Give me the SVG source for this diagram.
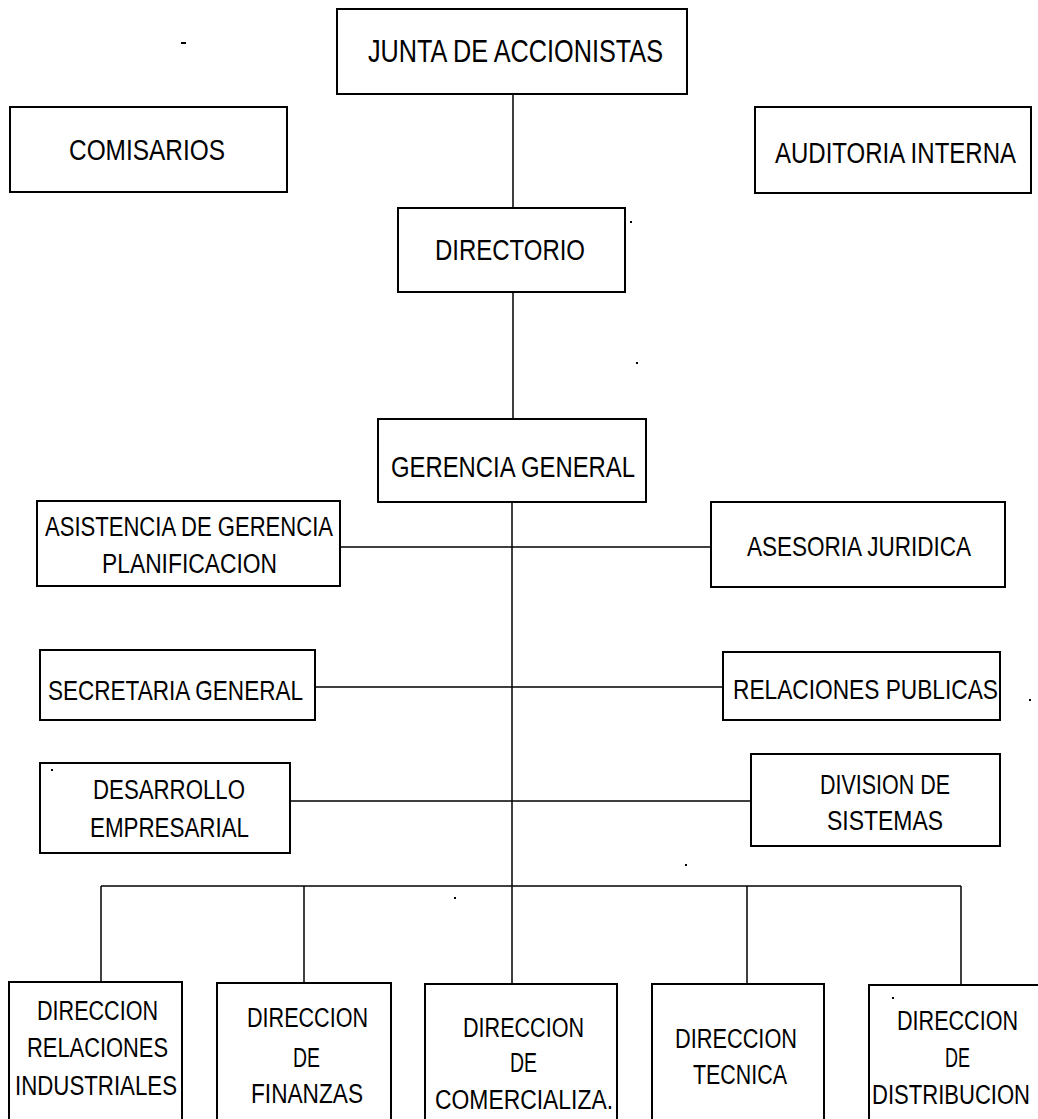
<svg xmlns="http://www.w3.org/2000/svg" width="1038" height="1119" viewBox="0 0 1038 1119">
  <style>
    .box { fill: #ffffff; stroke: #000000; stroke-width: 2; }
    .link { fill: none; stroke: #000000; stroke-width: 1.5; }
    text { font-family: "Liberation Sans Narrow", "Liberation Sans", Arial, sans-serif; fill: #000000; text-anchor: middle; }
    .t32 { font-size: 32px; }
    .t30 { font-size: 30px; }
    .t28 { font-size: 28px; }
    .t27 { font-size: 27px; }
    .speck { fill: #000000; }
  </style>

  <rect x="0" y="0" width="1038" height="1119" fill="#ffffff"/>

  <!-- connectors -->
  <g id="connectors">
    <line class="link" x1="513" y1="94" x2="513" y2="208"/>
    <line class="link" x1="513" y1="292" x2="513" y2="419"/>
    <line class="link" x1="512" y1="502" x2="512" y2="984"/>
    <line class="link" x1="340" y1="547" x2="711" y2="547"/>
    <line class="link" x1="315" y1="687" x2="723" y2="687"/>
    <line class="link" x1="290" y1="801" x2="751" y2="801"/>
    <line class="link" x1="101" y1="886" x2="961" y2="886"/>
    <line class="link" x1="101" y1="886" x2="101" y2="982"/>
    <line class="link" x1="304" y1="886" x2="304" y2="983"/>
    <line class="link" x1="747" y1="886" x2="747" y2="984"/>
    <line class="link" x1="961" y1="886" x2="961" y2="985"/>
  </g>

  <g id="junta">
    <rect class="box" x="337" y="9" width="350" height="85"/>
    <text class="t32" x="515.5" y="62" textLength="295" lengthAdjust="spacingAndGlyphs">JUNTA DE ACCIONISTAS</text>
  </g>
  <g id="comisarios">
    <rect class="box" x="10" y="107" width="277" height="85"/>
    <text class="t30" x="147" y="160" textLength="156" lengthAdjust="spacingAndGlyphs">COMISARIOS</text>
  </g>
  <g id="auditoria">
    <rect class="box" x="755" y="107" width="276" height="86"/>
    <text class="t30" x="895.5" y="163" textLength="241" lengthAdjust="spacingAndGlyphs">AUDITORIA INTERNA</text>
  </g>
  <g id="directorio">
    <rect class="box" x="398" y="208" width="227" height="84"/>
    <text class="t30" x="510" y="260" textLength="150" lengthAdjust="spacingAndGlyphs">DIRECTORIO</text>
  </g>
  <g id="gerencia">
    <rect class="box" x="378" y="419" width="268" height="83"/>
    <text class="t30" x="513" y="477" textLength="244" lengthAdjust="spacingAndGlyphs">GERENCIA GENERAL</text>
  </g>
  <g id="asistencia">
    <rect class="box" x="37" y="501" width="303" height="85"/>
    <text class="t27" x="189" y="536" textLength="288" lengthAdjust="spacingAndGlyphs">ASISTENCIA DE GERENCIA</text>
    <text class="t27" x="189.5" y="573" textLength="175" lengthAdjust="spacingAndGlyphs">PLANIFICACION</text>
  </g>
  <g id="asesoria">
    <rect class="box" x="711" y="502" width="294" height="85"/>
    <text class="t28" x="859" y="556" textLength="224" lengthAdjust="spacingAndGlyphs">ASESORIA JURIDICA</text>
  </g>
  <g id="secretaria">
    <rect class="box" x="40" y="650" width="275" height="70"/>
    <text class="t28" x="175.5" y="700" textLength="255" lengthAdjust="spacingAndGlyphs">SECRETARIA GENERAL</text>
  </g>
  <g id="relaciones-publicas">
    <rect class="box" x="723" y="652" width="277" height="68"/>
    <text class="t28" x="865.5" y="699" textLength="265" lengthAdjust="spacingAndGlyphs">RELACIONES PUBLICAS</text>
  </g>
  <g id="desarrollo">
    <rect class="box" x="40" y="763" width="250" height="90"/>
    <text class="t27" x="169" y="799" textLength="152" lengthAdjust="spacingAndGlyphs">DESARROLLO</text>
    <text class="t27" x="169.5" y="837" textLength="159" lengthAdjust="spacingAndGlyphs">EMPRESARIAL</text>
  </g>
  <g id="sistemas">
    <rect class="box" x="751" y="754" width="249" height="92"/>
    <text class="t27" x="885" y="794" textLength="130" lengthAdjust="spacingAndGlyphs">DIVISION DE</text>
    <text class="t27" x="885" y="830" textLength="116" lengthAdjust="spacingAndGlyphs">SISTEMAS</text>
  </g>

  <g id="dir-relaciones-industriales">
    <rect class="box" x="9" y="982" width="173" height="150"/>
    <text class="t27" x="97.5" y="1020" textLength="121" lengthAdjust="spacingAndGlyphs">DIRECCION</text>
    <text class="t27" x="97.5" y="1057" textLength="141" lengthAdjust="spacingAndGlyphs">RELACIONES</text>
    <text class="t27" x="96" y="1095" textLength="162" lengthAdjust="spacingAndGlyphs">INDUSTRIALES</text>
  </g>
  <g id="dir-finanzas">
    <rect class="box" x="217" y="983" width="174" height="150"/>
    <text class="t27" x="307.5" y="1027" textLength="121" lengthAdjust="spacingAndGlyphs">DIRECCION</text>
    <text class="t27" x="306.5" y="1067" textLength="27" lengthAdjust="spacingAndGlyphs">DE</text>
    <text class="t27" x="307" y="1103" textLength="112" lengthAdjust="spacingAndGlyphs">FINANZAS</text>
  </g>
  <g id="dir-comercializacion">
    <rect class="box" x="425" y="984" width="192" height="150"/>
    <text class="t27" x="523.5" y="1037" textLength="121" lengthAdjust="spacingAndGlyphs">DIRECCION</text>
    <text class="t27" x="523.5" y="1072" textLength="27" lengthAdjust="spacingAndGlyphs">DE</text>
    <text class="t27" x="524" y="1109" textLength="178" lengthAdjust="spacingAndGlyphs">COMERCIALIZA.</text>
  </g>
  <g id="dir-tecnica">
    <rect class="box" x="652" y="984" width="172" height="150"/>
    <text class="t27" x="736" y="1048" textLength="122" lengthAdjust="spacingAndGlyphs">DIRECCION</text>
    <text class="t27" x="740" y="1084" textLength="94" lengthAdjust="spacingAndGlyphs">TECNICA</text>
  </g>
  <g id="dir-distribucion">
    <rect class="box" x="869" y="985" width="180" height="150"/>
    <text class="t27" x="957.5" y="1030" textLength="121" lengthAdjust="spacingAndGlyphs">DIRECCION</text>
    <text class="t27" x="957.5" y="1067" textLength="25" lengthAdjust="spacingAndGlyphs">DE</text>
    <text class="t27" x="951" y="1104" textLength="158" lengthAdjust="spacingAndGlyphs">DISTRIBUCION</text>
  </g>

  <!-- small stray marks on the sheet -->
  <g id="specks">
    <rect class="speck" x="181" y="42" width="5" height="2"/>
    <rect class="speck" x="630" y="221" width="2" height="2"/>
    <rect class="speck" x="636" y="362" width="2" height="2"/>
    <rect class="speck" x="1029" y="699" width="2" height="2"/>
    <rect class="speck" x="51" y="769" width="2" height="2"/>
    <rect class="speck" x="454" y="897" width="2" height="2"/>
    <rect class="speck" x="685" y="864" width="2" height="2"/>
    <rect class="speck" x="892" y="997" width="2" height="2"/>
  </g>
</svg>
